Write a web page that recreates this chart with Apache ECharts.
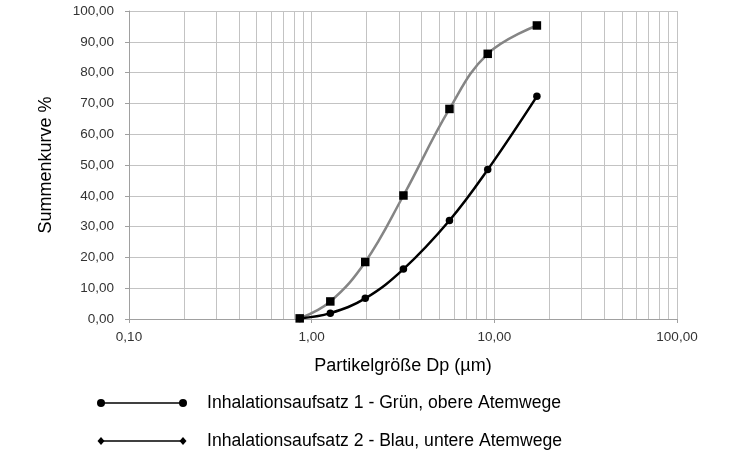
<!DOCTYPE html>
<html>
<head>
<meta charset="utf-8">
<script src="https://cdn.jsdelivr.net/npm/echarts@6/dist/echarts.min.js"></script>
<style>html,body{margin:0;padding:0;background:#fff}#c{width:733px;height:462px}</style>
</head>
<body>
<div id="c"></div>
<script>
// Data
const xSizes = [0.86, 1.265, 1.965, 3.18, 5.68, 9.2, 17.1];
const grayValues = [0.2, 5.7, 18.5, 40.1, 68.2, 86.1, 95.3];
const blackValues = [0.2, 1.9, 6.7, 16.2, 32.0, 48.5, 72.3];
const minorGridValues = [0.2,0.3,0.4,0.5,0.6,0.7,0.8,0.9,2,3,4,5,6,7,8,9,20,30,40,50,60,70,80,90];
const legendNames = ['Inhalationsaufsatz 1 - Grün, obere Atemwege', 'Inhalationsaufsatz 2 - Blau, untere Atemwege'];
const xTitle = 'Partikelgröße Dp (µm)';
const yTitle = 'Summenkurve %';

const fmt = v => Number(v).toFixed(2).replace('.', ',');
const FONT = "'Liberation Sans', Arial, sans-serif";
const gridColor = '#c3c3c3';

const chart = echarts.init(document.getElementById('c'), null, {renderer: 'canvas'});

const legendRow = (y, shape, name) => {
  const els = [{type: 'line', shape: {x1: 101, y1: y, x2: 183, y2: y}, style: {stroke: '#000', lineWidth: 1.5}}];
  [101, 183].forEach(x => {
    if (shape === 'circle') els.push({type: 'circle', shape: {cx: x, cy: y, r: 4}, style: {fill: '#000'}});
    else els.push({type: 'polygon', shape: {points: [[x - 3.5, y], [x, y - 4], [x + 3.5, y], [x, y + 4]]}, style: {fill: '#000'}});
  });
  els.push({type: 'text', x: 207, y: y, style: {text: name, font: '17.6px ' + FONT, fill: '#000', textVerticalAlign: 'middle', verticalAlign: 'middle'}});
  return els;
};

chart.setOption({
  animation: false,
  grid: {left: 129, right: 56, top: 11, bottom: 143},
  xAxis: {
    type: 'log', logBase: 10, min: 0.1, max: 100,
    name: xTitle, nameLocation: 'middle', nameGap: 38,
    nameTextStyle: {fontSize: 18, fontFamily: FONT, color: '#000'},
    axisLine: {show: true, lineStyle: {color: '#a0a0a0', width: 1}},
    axisTick: {show: true, length: 4, lineStyle: {color: '#a0a0a0'}},
    axisLabel: {formatter: fmt, fontSize: 13.5, fontFamily: FONT, color: '#333', margin: 11},
    splitLine: {show: true, lineStyle: {color: gridColor, width: 1}},
    minorTick: {show: false}, minorSplitLine: {show: false}
  },
  yAxis: {
    type: 'value', min: 0, max: 100, interval: 10,
    name: yTitle, nameLocation: 'middle', nameGap: 74, nameRotate: 90,
    nameTextStyle: {fontSize: 18, fontFamily: FONT, color: '#000'},
    axisLine: {show: true, lineStyle: {color: '#a0a0a0', width: 1}},
    axisTick: {show: true, length: 4, lineStyle: {color: '#a0a0a0'}},
    axisLabel: {formatter: fmt, fontSize: 13.5, fontFamily: FONT, color: '#333', margin: 15},
    splitLine: {show: true, lineStyle: {color: gridColor, width: 1}}
  },
  series: [
    {
      type: 'line', data: [], z: 0, silent: true,
      markLine: {
        silent: true, symbol: 'none', animation: false, z: 0,
        label: {show: false},
        lineStyle: {color: gridColor, width: 1, type: 'solid'},
        emphasis: {disabled: true},
        data: minorGridValues.map(v => ({xAxis: v}))
      }
    },
    {
      name: legendNames[1], type: 'line', z: 6,
      data: xSizes.map((x, i) => [x, grayValues[i]]),
      smooth: 0.4, symbol: 'rect', symbolSize: 8.5,
      lineStyle: {color: '#858585', width: 2.5},
      itemStyle: {color: '#000'}
    },
    {
      name: legendNames[0], type: 'line', z: 7,
      data: xSizes.map((x, i) => [x, blackValues[i]]),
      smooth: 0.4, symbol: 'circle', symbolSize: 7.5,
      lineStyle: {color: '#000', width: 2.5},
      itemStyle: {color: '#000'}
    }
  ],
  graphic: [
    ...legendRow(403, 'circle', legendNames[0]),
    ...legendRow(441, 'diamond', legendNames[1])
  ]
});
</script>
</body>
</html>
